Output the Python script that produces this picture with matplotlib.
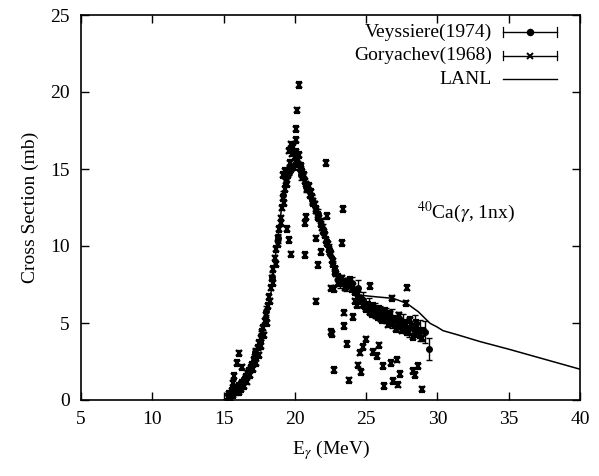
import matplotlib
matplotlib.use("Agg")
import matplotlib.pyplot as plt

plt.rcParams['font.family'] = ['Liberation Serif', 'DejaVu Serif']
plt.rcParams['mathtext.fontset'] = 'stix'

# ---------------- data ----------------
lanl_x = [15.0, 15.2, 16.0, 16.5, 17.0, 17.55, 18.0, 18.33, 18.6, 18.84, 19.08, 19.54, 20.0, 20.2,
          20.7, 21.53, 22.0, 22.35, 22.82, 23.17, 23.9, 24.6, 25.7, 26.9, 27.84, 28.66, 29.48,
          29.94, 30.4, 31.46, 33.0, 35.0, 37.5, 40.0]
lanl_y = [0.0, 0.1, 1.0, 1.7, 2.6, 3.9, 5.5, 7.0, 9.1, 10.8, 12.55, 14.3, 14.95, 14.9,
          14.07, 12.55, 11.25, 10.17, 8.66, 7.9, 7.2, 6.8, 6.7, 6.6, 6.28, 5.73, 4.98,
          4.76, 4.5, 4.22, 3.79, 3.3, 2.65, 2.0]

gor_x = [15.3, 15.4, 15.5, 15.6, 15.7, 15.8, 15.9, 16.0, 16.1, 16.2, 16.3, 16.4, 16.5, 16.6,
         16.7, 16.8, 16.9, 17.0, 17.1, 17.2, 17.3, 17.4, 17.5, 17.6, 17.7, 17.8, 17.9, 18.0,
         18.1, 18.2, 18.3, 18.4, 18.5, 18.6, 18.7, 18.8, 18.9, 19.0, 19.1, 19.2, 19.3, 19.4,
         19.5, 19.6, 19.6, 19.7, 19.8, 19.9, 20.0, 20.1, 20.2, 20.3, 20.4, 19.2, 19.3, 19.4,
         20.5, 20.6, 20.7, 20.8, 20.9, 21.0, 21.1, 21.2, 21.3, 21.4, 21.5, 21.6, 21.7, 21.8,
         21.9, 22.0, 22.1, 22.2, 22.3, 22.4, 22.5, 22.6, 22.7, 22.8, 22.9, 23.0, 23.1, 23.2,
         23.4, 23.6, 23.8, 24.0, 24.2, 24.4, 24.6, 24.8, 25.0, 25.2, 25.4, 25.6, 25.8, 26.0,
         26.2, 26.4, 26.6, 26.8, 27.0, 27.2, 27.4, 27.6, 27.8, 28.0, 28.2, 28.4, 28.6, 28.8,
         29.0,
         15.45, 15.65, 15.85, 16.05, 16.25, 16.45, 16.65, 16.85, 17.05, 17.25, 17.45, 17.65,
         17.85, 18.05, 18.25, 18.45, 18.65, 18.85, 19.05, 19.25, 19.45, 19.65, 19.85, 20.05,
         20.25, 20.45, 20.65, 20.85, 21.05, 21.25, 21.45, 21.65, 21.85, 22.05, 22.25, 22.45,
         22.65, 22.85, 23.05, 23.3, 23.5, 23.7, 23.9, 24.1, 24.3, 24.5, 24.7, 24.9, 25.1,
         25.3, 25.5, 25.7, 25.9, 26.1, 26.3, 26.5, 26.7, 26.9, 27.1, 27.3, 27.5, 27.7, 27.9,
         28.1, 28.3, 28.5, 28.7, 28.9,
         20.29, 20.17, 20.06, 22.2, 23.35, 22.25, 20.8, 20.7, 19.47, 19.6, 21.47, 23.3, 19.7,
         20.73, 21.8, 21.65, 22.55, 22.75, 25.25, 27.9, 26.78, 27.8, 21.5, 23.43, 24.1, 23.48,
         22.6, 22.5, 23.68, 24.99, 24.78, 24.6, 25.9, 25.5, 25.74, 24.4, 24.67, 26.2, 26.74,
         27.14, 27.35, 26.9, 27.23, 26.28, 23.82, 22.76, 28.26, 28.66, 28.46, 28.92, 16.1,
         15.92, 16.27, 15.73, 15.64, 24.2, 24.34]
gor_y = [0.2, 0.4, 0.3, 0.6, 0.5, 0.8, 0.7, 0.8, 0.9, 1.0, 1.1, 1.2, 1.3, 1.5,
         1.7, 1.9, 2.1, 2.3, 2.6, 2.8, 3.1, 3.4, 3.7, 4.0, 4.4, 4.7, 5.1, 5.5,
         6.1, 6.7, 7.3, 7.9, 8.5, 9.2, 9.8, 10.5, 11.1, 11.8, 12.5, 13.1, 13.7, 14.2,
         14.6, 14.9, 16.2, 16.6, 16.0, 16.4, 15.8, 16.9, 15.6, 15.9, 15.2, 14.6, 14.9, 14.5,
         14.8, 14.5, 14.2, 14.0, 13.8, 13.9, 13.5, 13.2, 12.9, 12.7, 12.3, 12.0, 11.8, 11.6,
         11.2, 11.0, 10.7, 10.4, 10.1, 9.8, 9.5, 9.1, 8.8, 8.5, 8.2, 8.0, 7.8, 7.7,
         7.6, 7.4, 7.5, 7.2, 7.0, 6.9, 6.5, 6.2, 5.9, 6.0, 5.6, 5.8, 5.4, 5.5,
         5.7, 5.2, 5.4, 5.0, 5.3, 4.8, 5.1, 4.6, 4.9, 4.4, 4.7, 4.3, 4.8, 4.2,
         4.5,
         0.1, 0.3, 0.5, 0.5, 0.7, 0.9, 1.2, 1.6, 2.0, 2.4, 2.9, 3.5,
         4.2, 5.0, 6.4, 7.6, 8.8, 10.1, 11.5, 12.8, 14.0, 15.4, 15.1, 16.1,
         15.3, 15.0, 14.6, 13.7, 13.3, 12.8, 12.4, 11.9, 11.4, 10.9, 10.2, 9.6,
         9.0, 8.3, 7.6, 7.9, 7.3, 7.7, 7.8, 7.4, 7.1, 6.6, 6.4, 6.1, 6.2,
         5.7, 6.1, 5.5, 5.9, 5.2, 5.8, 4.9, 5.6, 5.2, 4.6, 5.5, 4.5, 5.0, 4.4,
         5.2, 4.1, 5.0, 4.5, 4.0,
         20.45, 18.8, 17.6, 15.4, 12.4, 11.95, 11.9, 11.5, 11.1, 10.4, 10.5, 10.2, 9.45,
         9.4, 9.6, 8.75, 7.25, 7.2, 7.4, 7.3, 6.6, 6.28, 6.4, 5.67, 5.38, 4.8,
         4.3, 4.4, 3.64, 3.94, 3.44, 3.08, 3.55, 3.12, 2.85, 2.25, 1.82, 2.22, 2.4,
         2.62, 1.68, 1.22, 1.0, 0.92, 1.28, 1.95, 1.89, 2.22, 1.62, 0.69, 3.03,
         2.42, 2.12, 1.56, 1.08, 6.4, 6.17]
gor_err = 0.18

vey_x = [17.2, 17.6, 18.0, 18.4, 18.8, 19.2, 19.6, 20.0, 20.4, 20.8, 21.2, 21.6, 22.0, 22.4,
         22.8, 23.2, 23.6, 24.0, 24.4, 24.8, 25.2, 25.6, 26.0, 26.4, 26.8, 27.2, 27.6, 28.0,
         28.4, 28.8, 29.1, 29.4]
vey_y = [3.1, 4.2, 5.8, 8.0, 10.5, 13.3, 14.9, 15.3, 14.6, 13.8, 13.0, 12.1, 11.1, 9.8,
         8.4, 7.7, 7.5, 7.6, 7.3, 6.5, 6.1, 5.8, 5.6, 5.5, 5.3, 5.1, 5.0, 4.7,
         4.9, 4.5, 4.4, 3.3]
vey_err = [0.3, 0.3, 0.3, 0.3, 0.3, 0.3, 0.3, 0.3, 0.3, 0.3, 0.3, 0.3, 0.3, 0.3,
           0.3, 0.4, 0.4, 0.4, 0.5, 0.5, 0.5, 0.5, 0.5, 0.5, 0.6, 0.6, 0.6, 0.6,
           0.6, 0.7, 0.7, 0.7]

legend_labels = ["Veyssiere(1974)", "Goryachev(1968)", "LANL"]
annot = r"$^{40}$Ca($\gamma$, 1nx)"

# ---------------- figure ----------------
fig = plt.figure(figsize=(5.99, 4.76), dpi=100)
ax = fig.add_axes([81/599, 76/476, 499/599, 385/476])

ax.errorbar(gor_x, gor_y, yerr=gor_err, fmt='x', color='black', ms=4.5, mew=1.6,
            elinewidth=1.0, capsize=2.2, capthick=1.0, zorder=3)
ax.errorbar(vey_x, vey_y, yerr=vey_err, fmt='o', color='black', ms=4,
            elinewidth=1.0, capsize=2.2, capthick=1.0, zorder=4)
ax.plot(lanl_x, lanl_y, color='black', lw=1.1, zorder=5)

ax.set_xlim(5, 40)
ax.set_ylim(0, 25)
ax.set_xticks([5, 10, 15, 20, 25, 30, 35, 40])
ax.set_yticks([0, 5, 10, 15, 20, 25])
ax.tick_params(direction='in', top=True, right=True, length=6, width=1.0,
               labelsize=14, pad=8)
for s in ax.spines.values():
    s.set_linewidth(1.2)

ax.set_xlabel(r"E$_\gamma$ (MeV)", fontsize=14, labelpad=7)
ax.set_ylabel("Cross Section (mb)", fontsize=14, labelpad=8)

ax.text(28.6, 12.2, annot, fontsize=14, ha='left', va='center')

# ---------------- legend (gnuplot style) ----------------
rows = [(400-32)/385, (400-55.5)/385, (400-79)/385]
tx = 0.8237
lx0, lx1 = 0.8457, 0.9539
cap = 0.012
for i, (lab, yy) in enumerate(zip(legend_labels, rows)):
    ax.text(tx, yy, lab, transform=ax.transAxes, ha='right', va='center', fontsize=14)
    ax.plot([lx0, lx1], [yy, yy], transform=ax.transAxes, color='black', lw=1.0, clip_on=False)
    if i < 2:
        ax.plot([lx0, lx0], [yy-cap, yy+cap], transform=ax.transAxes, color='black', lw=0.9, clip_on=False)
        ax.plot([lx1, lx1], [yy-cap, yy+cap], transform=ax.transAxes, color='black', lw=0.9, clip_on=False)
        mk = 'o' if i == 0 else 'x'
        ax.plot([(lx0+lx1)/2], [yy], transform=ax.transAxes, marker=mk, color='black',
                ms=4 if i == 0 else 4.5, mew=1.4, clip_on=False)

fig.savefig("out.png", dpi=100)
